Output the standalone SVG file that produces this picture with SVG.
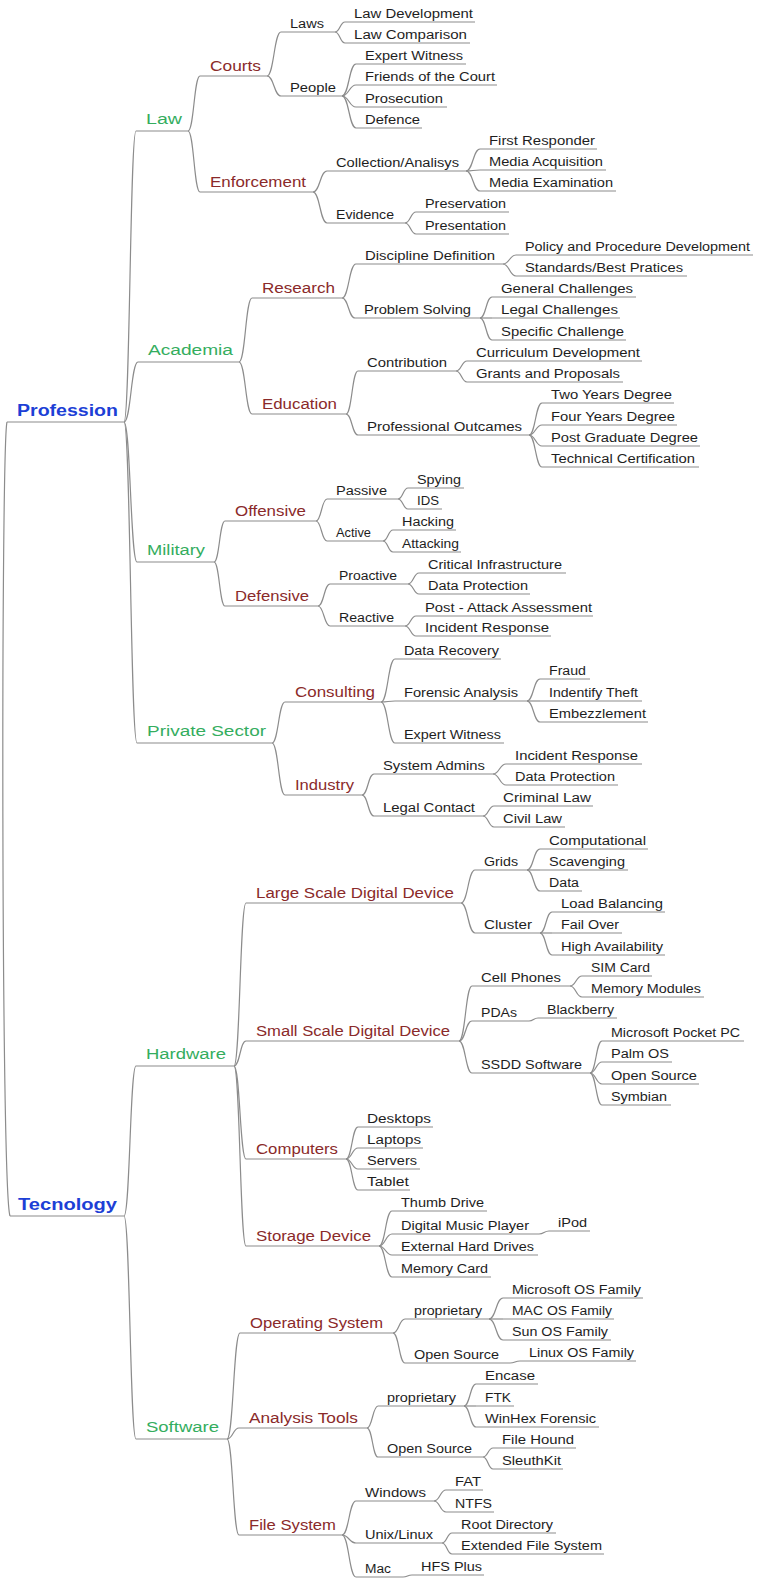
<svg xmlns="http://www.w3.org/2000/svg" width="757" height="1579" viewBox="0 0 757 1579">
<style>
  .c { fill: none; stroke: #8c8c8c; stroke-width: 1.2; }
  .u { fill: none; stroke: #8c8c8c; stroke-width: 1.2; }
  text { font-family: "Liberation Sans", Arial, sans-serif; }
  .l0 { font-size: 16px; font-weight: bold; fill: #1d3fd6; }
  .l1 { font-size: 15.5px; fill: #34ad5e; }
  .l2 { font-size: 14px; fill: #8a2a2a; }
  .l3 { font-size: 12px; fill: #1e1e1e; }
</style>
<rect width="757" height="1579" fill="#ffffff"/>

<!-- connectors: each runs from the right end of a parent's underline to the start of the child's underline -->
<g id="connectors">
  <path class="c" d="M7,422 C1,445 1,1190 10,1216"/>
  <path class="c" d="M124,422 C130,422 130,131 136,131"/>
  <path class="c" d="M124,422 C131,422 131,362 138,362"/>
  <path class="c" d="M124,422 C130.5,422 130.5,562 137,562"/>
  <path class="c" d="M124,422 C130.5,422 130.5,743 137,743"/>
  <path class="c" d="M124,1216 C130,1216 130,1066 136,1066"/>
  <path class="c" d="M124,1216 C130,1216 130,1439 136,1439"/>
  <path class="c" d="M188,131 C194,131 194,76 200,76"/>
  <path class="c" d="M188,131 C194,131 194,192 200,192"/>
  <path class="c" d="M239,362 C245.5,362 245.5,298 252,298"/>
  <path class="c" d="M239,362 C245.5,362 245.5,414 252,414"/>
  <path class="c" d="M214,562 C219.5,562 219.5,521 225,521"/>
  <path class="c" d="M214,562 C219.5,562 219.5,606 225,606"/>
  <path class="c" d="M272,743 C278.5,743 278.5,702 285,702"/>
  <path class="c" d="M272,743 C278.5,743 278.5,795 285,795"/>
  <path class="c" d="M234,1066 C240,1066 240,903 246,903"/>
  <path class="c" d="M234,1066 C240,1066 240,1041 246,1041"/>
  <path class="c" d="M234,1066 C240,1066 240,1159 246,1159"/>
  <path class="c" d="M234,1066 C240,1066 240,1246 246,1246"/>
  <path class="c" d="M227,1439 C233.5,1439 233.5,1333 240,1333"/>
  <path class="c" d="M227,1439 C233,1439 233,1428 239,1428"/>
  <path class="c" d="M227,1439 C233,1439 233,1535 239,1535"/>
  <path class="c" d="M267,76 C274,76 274,32 281,32"/>
  <path class="c" d="M267,76 C274,76 274,96 281,96"/>
  <path class="c" d="M335,32 C340,32 340,22 345,22"/>
  <path class="c" d="M335,32 C340,32 340,43 345,43"/>
  <path class="c" d="M342,96 C349,96 349,64 356,64"/>
  <path class="c" d="M342,96 C349,96 349,85 356,85"/>
  <path class="c" d="M342,96 C349,96 349,107 356,107"/>
  <path class="c" d="M342,96 C349,96 349,128 356,128"/>
  <path class="c" d="M313,192 C320,192 320,171 327,171"/>
  <path class="c" d="M313,192 C320,192 320,223 327,223"/>
  <path class="c" d="M466,171 C473,171 473,149 480,149"/>
  <path class="c" d="M466,171 C473,171 473,170 480,170"/>
  <path class="c" d="M466,171 C473,171 473,191 480,191"/>
  <path class="c" d="M405,223 C410.5,223 410.5,212 416,212"/>
  <path class="c" d="M405,223 C410.5,223 410.5,234 416,234"/>
  <path class="c" d="M342,298 C349,298 349,264 356,264"/>
  <path class="c" d="M342,298 C348.5,298 348.5,318 355,318"/>
  <path class="c" d="M503,264 C509.5,264 509.5,255 516,255"/>
  <path class="c" d="M503,264 C509.5,264 509.5,276 516,276"/>
  <path class="c" d="M480,318 C486,318 486,297 492,297"/>
  <path class="c" d="M480,318 L492,318"/>
  <path class="c" d="M480,318 C486,318 486,340 492,340"/>
  <path class="c" d="M346,414 C352,414 352,371 358,371"/>
  <path class="c" d="M346,414 C352,414 352,435 358,435"/>
  <path class="c" d="M456,371 C461.5,371 461.5,361 467,361"/>
  <path class="c" d="M456,371 C461.5,371 461.5,382 467,382"/>
  <path class="c" d="M529,435 C535.5,435 535.5,403 542,403"/>
  <path class="c" d="M529,435 C535.5,435 535.5,425 542,425"/>
  <path class="c" d="M529,435 C535.5,435 535.5,446 542,446"/>
  <path class="c" d="M529,435 C535.5,435 535.5,467 542,467"/>
  <path class="c" d="M316,521 C321.5,521 321.5,499 327,499"/>
  <path class="c" d="M316,521 C321.5,521 321.5,541 327,541"/>
  <path class="c" d="M398,499 C403,499 403,488 408,488"/>
  <path class="c" d="M398,499 C403,499 403,509 408,509"/>
  <path class="c" d="M383,541 C388,541 388,530 393,530"/>
  <path class="c" d="M383,541 C388,541 388,552 393,552"/>
  <path class="c" d="M318,606 C324,606 324,584 330,584"/>
  <path class="c" d="M318,606 C324,606 324,626 330,626"/>
  <path class="c" d="M408,584 C413.5,584 413.5,573 419,573"/>
  <path class="c" d="M408,584 C413.5,584 413.5,594 419,594"/>
  <path class="c" d="M405,626 C410.5,626 410.5,616 416,616"/>
  <path class="c" d="M405,626 C410.5,626 410.5,636 416,636"/>
  <path class="c" d="M381,702 C388,702 388,659 395,659"/>
  <path class="c" d="M381,702 C388,702 388,701 395,701"/>
  <path class="c" d="M381,702 C388,702 388,743 395,743"/>
  <path class="c" d="M527,701 C533.5,701 533.5,679 540,679"/>
  <path class="c" d="M527,701 L540,701"/>
  <path class="c" d="M527,701 C533.5,701 533.5,722 540,722"/>
  <path class="c" d="M362,795 C368,795 368,774 374,774"/>
  <path class="c" d="M362,795 C368,795 368,816 374,816"/>
  <path class="c" d="M493,774 C499.5,774 499.5,764 506,764"/>
  <path class="c" d="M493,774 C499.5,774 499.5,785 506,785"/>
  <path class="c" d="M483,816 C488.5,816 488.5,806 494,806"/>
  <path class="c" d="M483,816 C488.5,816 488.5,827 494,827"/>
  <path class="c" d="M461,903 C468,903 468,870 475,870"/>
  <path class="c" d="M461,903 C468,903 468,933 475,933"/>
  <path class="c" d="M527,870 C533.5,870 533.5,849 540,849"/>
  <path class="c" d="M527,870 L540,870"/>
  <path class="c" d="M527,870 C533.5,870 533.5,891 540,891"/>
  <path class="c" d="M540,933 C546,933 546,912 552,912"/>
  <path class="c" d="M540,933 L552,933"/>
  <path class="c" d="M540,933 C546,933 546,955 552,955"/>
  <path class="c" d="M459,1041 C465.5,1041 465.5,986 472,986"/>
  <path class="c" d="M459,1041 C465.5,1041 465.5,1021 472,1021"/>
  <path class="c" d="M459,1041 C465.5,1041 465.5,1073 472,1073"/>
  <path class="c" d="M570,986 C576,986 576,976 582,976"/>
  <path class="c" d="M570,986 C576,986 576,997 582,997"/>
  <path class="c" d="M529,1021 C533.5,1021 533.5,1018 538,1018"/>
  <path class="c" d="M590,1073 C596,1073 596,1041 602,1041"/>
  <path class="c" d="M590,1073 C596,1073 596,1062 602,1062"/>
  <path class="c" d="M590,1073 C596,1073 596,1084 602,1084"/>
  <path class="c" d="M590,1073 C596,1073 596,1105 602,1105"/>
  <path class="c" d="M346,1159 C352,1159 352,1127 358,1127"/>
  <path class="c" d="M346,1159 C352,1159 352,1148 358,1148"/>
  <path class="c" d="M346,1159 C352,1159 352,1169 358,1169"/>
  <path class="c" d="M346,1159 C352,1159 352,1190 358,1190"/>
  <path class="c" d="M379,1246 C385.5,1246 385.5,1211 392,1211"/>
  <path class="c" d="M379,1246 C385.5,1246 385.5,1234 392,1234"/>
  <path class="c" d="M379,1246 C385.5,1246 385.5,1255 392,1255"/>
  <path class="c" d="M379,1246 C385.5,1246 385.5,1277 392,1277"/>
  <path class="c" d="M539,1234 C544,1234 544,1231 549,1231"/>
  <path class="c" d="M393,1333 C399,1333 399,1319 405,1319"/>
  <path class="c" d="M393,1333 C399,1333 399,1363 405,1363"/>
  <path class="c" d="M489,1319 C496,1319 496,1298 503,1298"/>
  <path class="c" d="M489,1319 L503,1319"/>
  <path class="c" d="M489,1319 C496,1319 496,1340 503,1340"/>
  <path class="c" d="M510,1363 C515,1363 515,1361 520,1361"/>
  <path class="c" d="M367,1428 C372.5,1428 372.5,1406 378,1406"/>
  <path class="c" d="M367,1428 C372.5,1428 372.5,1457 378,1457"/>
  <path class="c" d="M464,1406 C470,1406 470,1384 476,1384"/>
  <path class="c" d="M464,1406 L476,1406"/>
  <path class="c" d="M464,1406 C470,1406 470,1427 476,1427"/>
  <path class="c" d="M483,1457 C488,1457 488,1448 493,1448"/>
  <path class="c" d="M483,1457 C488,1457 488,1469 493,1469"/>
  <path class="c" d="M342,1535 C349,1535 349,1501 356,1501"/>
  <path class="c" d="M342,1535 C349,1535 349,1543 356,1543"/>
  <path class="c" d="M342,1535 C349,1535 349,1577 356,1577"/>
  <path class="c" d="M434,1501 C440,1501 440,1490 446,1490"/>
  <path class="c" d="M434,1501 C440,1501 440,1512 446,1512"/>
  <path class="c" d="M442,1543 C447,1543 447,1533 452,1533"/>
  <path class="c" d="M442,1543 C447,1543 447,1554 452,1554"/>
  <path class="c" d="M403,1577 C407.5,1577 407.5,1575 412,1575"/>
</g>

<!-- roots -->
<g id="profession"><path class="u" d="M7,422 H124"/><text class="l0" x="17" y="416" textLength="101" lengthAdjust="spacingAndGlyphs">Profession</text></g>
<g id="tecnology"><path class="u" d="M10,1216 H124"/><text class="l0" x="18" y="1210" textLength="99" lengthAdjust="spacingAndGlyphs">Tecnology</text></g>

<!-- Profession branches -->
<g id="law"><path class="u" d="M136,131 H188"/><text class="l1" x="146" y="124" textLength="36" lengthAdjust="spacingAndGlyphs">Law</text></g>
<g id="courts"><path class="u" d="M200,76 H267"/><text class="l2" x="210" y="71" textLength="51" lengthAdjust="spacingAndGlyphs">Courts</text></g>
<g id="courts-laws"><path class="u" d="M281,32 H335"/><text class="l3" x="290" y="28" textLength="34" lengthAdjust="spacingAndGlyphs">Laws</text></g>
<g id="law-development"><path class="u" d="M345,22 H475"/><text class="l3" x="354" y="18" textLength="119" lengthAdjust="spacingAndGlyphs">Law Development</text></g>
<g id="law-comparison"><path class="u" d="M345,43 H470"/><text class="l3" x="354" y="39" textLength="113" lengthAdjust="spacingAndGlyphs">Law Comparison</text></g>
<g id="courts-people"><path class="u" d="M281,96 H342"/><text class="l3" x="290" y="92" textLength="46" lengthAdjust="spacingAndGlyphs">People</text></g>
<g id="people-expert-witness"><path class="u" d="M356,64 H466"/><text class="l3" x="365" y="60" textLength="98" lengthAdjust="spacingAndGlyphs">Expert Witness</text></g>
<g id="friends-of-the-court"><path class="u" d="M356,85 H497"/><text class="l3" x="365" y="81" textLength="130" lengthAdjust="spacingAndGlyphs">Friends of the Court</text></g>
<g id="prosecution"><path class="u" d="M356,107 H447"/><text class="l3" x="365" y="103" textLength="78" lengthAdjust="spacingAndGlyphs">Prosecution</text></g>
<g id="defence"><path class="u" d="M356,128 H422"/><text class="l3" x="365" y="124" textLength="55" lengthAdjust="spacingAndGlyphs">Defence</text></g>
<g id="enforcement"><path class="u" d="M200,192 H313"/><text class="l2" x="210" y="187" textLength="96" lengthAdjust="spacingAndGlyphs">Enforcement</text></g>
<g id="collection-analisys"><path class="u" d="M327,171 H466"/><text class="l3" x="336" y="167" textLength="123" lengthAdjust="spacingAndGlyphs">Collection/Analisys</text></g>
<g id="first-responder"><path class="u" d="M480,149 H597"/><text class="l3" x="489" y="145" textLength="106" lengthAdjust="spacingAndGlyphs">First Responder</text></g>
<g id="media-acquisition"><path class="u" d="M480,170 H606"/><text class="l3" x="489" y="166" textLength="114" lengthAdjust="spacingAndGlyphs">Media Acquisition</text></g>
<g id="media-examination"><path class="u" d="M480,191 H616"/><text class="l3" x="489" y="187" textLength="124" lengthAdjust="spacingAndGlyphs">Media Examination</text></g>
<g id="evidence"><path class="u" d="M327,223 H405"/><text class="l3" x="336" y="219" textLength="58" lengthAdjust="spacingAndGlyphs">Evidence</text></g>
<g id="preservation"><path class="u" d="M416,212 H509"/><text class="l3" x="425" y="208" textLength="81" lengthAdjust="spacingAndGlyphs">Preservation</text></g>
<g id="presentation"><path class="u" d="M416,234 H509"/><text class="l3" x="425" y="230" textLength="81" lengthAdjust="spacingAndGlyphs">Presentation</text></g>

<g id="academia"><path class="u" d="M138,362 H239"/><text class="l1" x="148" y="355" textLength="85" lengthAdjust="spacingAndGlyphs">Academia</text></g>
<g id="research"><path class="u" d="M252,298 H342"/><text class="l2" x="262" y="293" textLength="73" lengthAdjust="spacingAndGlyphs">Research</text></g>
<g id="discipline-definition"><path class="u" d="M356,264 H503"/><text class="l3" x="365" y="260" textLength="130" lengthAdjust="spacingAndGlyphs">Discipline Definition</text></g>
<g id="policy-procedure-development"><path class="u" d="M516,255 H753"/><text class="l3" x="525" y="251" textLength="225" lengthAdjust="spacingAndGlyphs">Policy and Procedure Development</text></g>
<g id="standards-best-pratices"><path class="u" d="M516,276 H687"/><text class="l3" x="525" y="272" textLength="158" lengthAdjust="spacingAndGlyphs">Standards/Best Pratices</text></g>
<g id="problem-solving"><path class="u" d="M355,318 H480"/><text class="l3" x="364" y="314" textLength="107" lengthAdjust="spacingAndGlyphs">Problem Solving</text></g>
<g id="general-challenges"><path class="u" d="M492,297 H636"/><text class="l3" x="501" y="293" textLength="132" lengthAdjust="spacingAndGlyphs">General Challenges</text></g>
<g id="legal-challenges"><path class="u" d="M492,318 H620"/><text class="l3" x="501" y="314" textLength="117" lengthAdjust="spacingAndGlyphs">Legal Challenges</text></g>
<g id="specific-challenge"><path class="u" d="M492,340 H626"/><text class="l3" x="501" y="336" textLength="123" lengthAdjust="spacingAndGlyphs">Specific Challenge</text></g>
<g id="education"><path class="u" d="M252,414 H346"/><text class="l2" x="262" y="409" textLength="75" lengthAdjust="spacingAndGlyphs">Education</text></g>
<g id="contribution"><path class="u" d="M358,371 H456"/><text class="l3" x="367" y="367" textLength="80" lengthAdjust="spacingAndGlyphs">Contribution</text></g>
<g id="curriculum-development"><path class="u" d="M467,361 H642"/><text class="l3" x="476" y="357" textLength="164" lengthAdjust="spacingAndGlyphs">Curriculum Development</text></g>
<g id="grants-and-proposals"><path class="u" d="M467,382 H623"/><text class="l3" x="476" y="378" textLength="144" lengthAdjust="spacingAndGlyphs">Grants and Proposals</text></g>
<g id="professional-outcames"><path class="u" d="M358,435 H529"/><text class="l3" x="367" y="431" textLength="155" lengthAdjust="spacingAndGlyphs">Professional Outcames</text></g>
<g id="two-years-degree"><path class="u" d="M542,403 H674"/><text class="l3" x="551" y="399" textLength="121" lengthAdjust="spacingAndGlyphs">Two Years Degree</text></g>
<g id="four-years-degree"><path class="u" d="M542,425 H677"/><text class="l3" x="551" y="421" textLength="124" lengthAdjust="spacingAndGlyphs">Four Years Degree</text></g>
<g id="post-graduate-degree"><path class="u" d="M542,446 H700"/><text class="l3" x="551" y="442" textLength="147" lengthAdjust="spacingAndGlyphs">Post Graduate Degree</text></g>
<g id="technical-certification"><path class="u" d="M542,467 H699"/><text class="l3" x="551" y="463" textLength="144" lengthAdjust="spacingAndGlyphs">Technical Certification</text></g>

<g id="military"><path class="u" d="M137,562 H214"/><text class="l1" x="147" y="555" textLength="58" lengthAdjust="spacingAndGlyphs">Military</text></g>
<g id="offensive"><path class="u" d="M225,521 H316"/><text class="l2" x="235" y="516" textLength="71" lengthAdjust="spacingAndGlyphs">Offensive</text></g>
<g id="passive"><path class="u" d="M327,499 H398"/><text class="l3" x="336" y="495" textLength="51" lengthAdjust="spacingAndGlyphs">Passive</text></g>
<g id="spying"><path class="u" d="M408,488 H464"/><text class="l3" x="417" y="484" textLength="44" lengthAdjust="spacingAndGlyphs">Spying</text></g>
<g id="ids"><path class="u" d="M408,509 H442"/><text class="l3" x="417" y="505" textLength="22" lengthAdjust="spacingAndGlyphs">IDS</text></g>
<g id="active"><path class="u" d="M327,541 H383"/><text class="l3" x="336" y="537" textLength="35" lengthAdjust="spacingAndGlyphs">Active</text></g>
<g id="hacking"><path class="u" d="M393,530 H456"/><text class="l3" x="402" y="526" textLength="52" lengthAdjust="spacingAndGlyphs">Hacking</text></g>
<g id="attacking"><path class="u" d="M393,552 H461"/><text class="l3" x="402" y="548" textLength="57" lengthAdjust="spacingAndGlyphs">Attacking</text></g>
<g id="defensive"><path class="u" d="M225,606 H318"/><text class="l2" x="235" y="601" textLength="74" lengthAdjust="spacingAndGlyphs">Defensive</text></g>
<g id="proactive"><path class="u" d="M330,584 H408"/><text class="l3" x="339" y="580" textLength="58" lengthAdjust="spacingAndGlyphs">Proactive</text></g>
<g id="critical-infrastructure"><path class="u" d="M419,573 H566"/><text class="l3" x="428" y="569" textLength="134" lengthAdjust="spacingAndGlyphs">Critical Infrastructure</text></g>
<g id="proactive-data-protection"><path class="u" d="M419,594 H530"/><text class="l3" x="428" y="590" textLength="100" lengthAdjust="spacingAndGlyphs">Data Protection</text></g>
<g id="reactive"><path class="u" d="M330,626 H405"/><text class="l3" x="339" y="622" textLength="55" lengthAdjust="spacingAndGlyphs">Reactive</text></g>
<g id="post-attack-assessment"><path class="u" d="M416,616 H593"/><text class="l3" x="425" y="612" textLength="167" lengthAdjust="spacingAndGlyphs">Post - Attack Assessment</text></g>
<g id="reactive-incident-response"><path class="u" d="M416,636 H551"/><text class="l3" x="425" y="632" textLength="124" lengthAdjust="spacingAndGlyphs">Incident Response</text></g>

<g id="private-sector"><path class="u" d="M137,743 H272"/><text class="l1" x="147" y="736" textLength="119" lengthAdjust="spacingAndGlyphs">Private Sector</text></g>
<g id="consulting"><path class="u" d="M285,702 H381"/><text class="l2" x="295" y="697" textLength="80" lengthAdjust="spacingAndGlyphs">Consulting</text></g>
<g id="data-recovery"><path class="u" d="M395,659 H501"/><text class="l3" x="404" y="655" textLength="95" lengthAdjust="spacingAndGlyphs">Data Recovery</text></g>
<g id="forensic-analysis"><path class="u" d="M395,701 H527"/><text class="l3" x="404" y="697" textLength="114" lengthAdjust="spacingAndGlyphs">Forensic Analysis</text></g>
<g id="fraud"><path class="u" d="M540,679 H590"/><text class="l3" x="549" y="675" textLength="37" lengthAdjust="spacingAndGlyphs">Fraud</text></g>
<g id="indentify-theft"><path class="u" d="M540,701 H642"/><text class="l3" x="549" y="697" textLength="89" lengthAdjust="spacingAndGlyphs">Indentify Theft</text></g>
<g id="embezzlement"><path class="u" d="M540,722 H648"/><text class="l3" x="549" y="718" textLength="97" lengthAdjust="spacingAndGlyphs">Embezzlement</text></g>
<g id="consulting-expert-witness"><path class="u" d="M395,743 H504"/><text class="l3" x="404" y="739" textLength="97" lengthAdjust="spacingAndGlyphs">Expert Witness</text></g>
<g id="industry"><path class="u" d="M285,795 H362"/><text class="l2" x="295" y="790" textLength="59" lengthAdjust="spacingAndGlyphs">Industry</text></g>
<g id="system-admins"><path class="u" d="M374,774 H493"/><text class="l3" x="383" y="770" textLength="102" lengthAdjust="spacingAndGlyphs">System Admins</text></g>
<g id="admins-incident-response"><path class="u" d="M506,764 H642"/><text class="l3" x="515" y="760" textLength="123" lengthAdjust="spacingAndGlyphs">Incident Response</text></g>
<g id="admins-data-protection"><path class="u" d="M506,785 H618"/><text class="l3" x="515" y="781" textLength="100" lengthAdjust="spacingAndGlyphs">Data Protection</text></g>
<g id="legal-contact"><path class="u" d="M374,816 H483"/><text class="l3" x="383" y="812" textLength="92" lengthAdjust="spacingAndGlyphs">Legal Contact</text></g>
<g id="criminal-law"><path class="u" d="M494,806 H593"/><text class="l3" x="503" y="802" textLength="88" lengthAdjust="spacingAndGlyphs">Criminal Law</text></g>
<g id="civil-law"><path class="u" d="M494,827 H565"/><text class="l3" x="503" y="823" textLength="59" lengthAdjust="spacingAndGlyphs">Civil Law</text></g>

<!-- Tecnology branches -->
<g id="hardware"><path class="u" d="M136,1066 H234"/><text class="l1" x="146" y="1059" textLength="80" lengthAdjust="spacingAndGlyphs">Hardware</text></g>
<g id="large-scale-digital-device"><path class="u" d="M246,903 H461"/><text class="l2" x="256" y="898" textLength="198" lengthAdjust="spacingAndGlyphs">Large Scale Digital Device</text></g>
<g id="grids"><path class="u" d="M475,870 H527"/><text class="l3" x="484" y="866" textLength="34" lengthAdjust="spacingAndGlyphs">Grids</text></g>
<g id="computational"><path class="u" d="M540,849 H648"/><text class="l3" x="549" y="845" textLength="97" lengthAdjust="spacingAndGlyphs">Computational</text></g>
<g id="scavenging"><path class="u" d="M540,870 H628"/><text class="l3" x="549" y="866" textLength="76" lengthAdjust="spacingAndGlyphs">Scavenging</text></g>
<g id="grids-data"><path class="u" d="M540,891 H582"/><text class="l3" x="549" y="887" textLength="30" lengthAdjust="spacingAndGlyphs">Data</text></g>
<g id="cluster"><path class="u" d="M475,933 H540"/><text class="l3" x="484" y="929" textLength="48" lengthAdjust="spacingAndGlyphs">Cluster</text></g>
<g id="load-balancing"><path class="u" d="M552,912 H665"/><text class="l3" x="561" y="908" textLength="102" lengthAdjust="spacingAndGlyphs">Load Balancing</text></g>
<g id="fail-over"><path class="u" d="M552,933 H622"/><text class="l3" x="561" y="929" textLength="58" lengthAdjust="spacingAndGlyphs">Fail Over</text></g>
<g id="high-availability"><path class="u" d="M552,955 H665"/><text class="l3" x="561" y="951" textLength="102" lengthAdjust="spacingAndGlyphs">High Availability</text></g>
<g id="small-scale-digital-device"><path class="u" d="M246,1041 H459"/><text class="l2" x="256" y="1036" textLength="194" lengthAdjust="spacingAndGlyphs">Small Scale Digital Device</text></g>
<g id="cell-phones"><path class="u" d="M472,986 H570"/><text class="l3" x="481" y="982" textLength="80" lengthAdjust="spacingAndGlyphs">Cell Phones</text></g>
<g id="sim-card"><path class="u" d="M582,976 H652"/><text class="l3" x="591" y="972" textLength="59" lengthAdjust="spacingAndGlyphs">SIM Card</text></g>
<g id="memory-modules"><path class="u" d="M582,997 H704"/><text class="l3" x="591" y="993" textLength="110" lengthAdjust="spacingAndGlyphs">Memory Modules</text></g>
<g id="pdas"><path class="u" d="M472,1021 H529"/><text class="l3" x="481" y="1017" textLength="36" lengthAdjust="spacingAndGlyphs">PDAs</text></g>
<g id="blackberry"><path class="u" d="M538,1018 H617"/><text class="l3" x="547" y="1014" textLength="67" lengthAdjust="spacingAndGlyphs">Blackberry</text></g>
<g id="ssdd-software"><path class="u" d="M472,1073 H590"/><text class="l3" x="481" y="1069" textLength="101" lengthAdjust="spacingAndGlyphs">SSDD Software</text></g>
<g id="microsoft-pocket-pc"><path class="u" d="M602,1041 H744"/><text class="l3" x="611" y="1037" textLength="129" lengthAdjust="spacingAndGlyphs">Microsoft Pocket PC</text></g>
<g id="palm-os"><path class="u" d="M602,1062 H672"/><text class="l3" x="611" y="1058" textLength="58" lengthAdjust="spacingAndGlyphs">Palm OS</text></g>
<g id="ssdd-open-source"><path class="u" d="M602,1084 H699"/><text class="l3" x="611" y="1080" textLength="86" lengthAdjust="spacingAndGlyphs">Open Source</text></g>
<g id="symbian"><path class="u" d="M602,1105 H671"/><text class="l3" x="611" y="1101" textLength="56" lengthAdjust="spacingAndGlyphs">Symbian</text></g>
<g id="computers"><path class="u" d="M246,1159 H346"/><text class="l2" x="256" y="1154" textLength="82" lengthAdjust="spacingAndGlyphs">Computers</text></g>
<g id="desktops"><path class="u" d="M358,1127 H433"/><text class="l3" x="367" y="1123" textLength="64" lengthAdjust="spacingAndGlyphs">Desktops</text></g>
<g id="laptops"><path class="u" d="M358,1148 H423"/><text class="l3" x="367" y="1144" textLength="54" lengthAdjust="spacingAndGlyphs">Laptops</text></g>
<g id="servers"><path class="u" d="M358,1169 H420"/><text class="l3" x="367" y="1165" textLength="50" lengthAdjust="spacingAndGlyphs">Servers</text></g>
<g id="tablet"><path class="u" d="M358,1190 H410"/><text class="l3" x="367" y="1186" textLength="42" lengthAdjust="spacingAndGlyphs">Tablet</text></g>
<g id="storage-device"><path class="u" d="M246,1246 H379"/><text class="l2" x="256" y="1241" textLength="115" lengthAdjust="spacingAndGlyphs">Storage Device</text></g>
<g id="thumb-drive"><path class="u" d="M392,1211 H487"/><text class="l3" x="401" y="1207" textLength="83" lengthAdjust="spacingAndGlyphs">Thumb Drive</text></g>
<g id="digital-music-player"><path class="u" d="M392,1234 H539"/><text class="l3" x="401" y="1230" textLength="128" lengthAdjust="spacingAndGlyphs">Digital Music Player</text></g>
<g id="ipod"><path class="u" d="M549,1231 H590"/><text class="l3" x="558" y="1227" textLength="29" lengthAdjust="spacingAndGlyphs">iPod</text></g>
<g id="external-hard-drives"><path class="u" d="M392,1255 H538"/><text class="l3" x="401" y="1251" textLength="133" lengthAdjust="spacingAndGlyphs">External Hard Drives</text></g>
<g id="memory-card"><path class="u" d="M392,1277 H491"/><text class="l3" x="401" y="1273" textLength="87" lengthAdjust="spacingAndGlyphs">Memory Card</text></g>

<g id="software"><path class="u" d="M136,1439 H227"/><text class="l1" x="146" y="1432" textLength="73" lengthAdjust="spacingAndGlyphs">Software</text></g>
<g id="operating-system"><path class="u" d="M240,1333 H393"/><text class="l2" x="250" y="1328" textLength="133" lengthAdjust="spacingAndGlyphs">Operating System</text></g>
<g id="os-proprietary"><path class="u" d="M405,1319 H489"/><text class="l3" x="414" y="1315" textLength="68" lengthAdjust="spacingAndGlyphs">proprietary</text></g>
<g id="microsoft-os-family"><path class="u" d="M503,1298 H643"/><text class="l3" x="512" y="1294" textLength="129" lengthAdjust="spacingAndGlyphs">Microsoft OS Family</text></g>
<g id="mac-os-family"><path class="u" d="M503,1319 H614"/><text class="l3" x="512" y="1315" textLength="100" lengthAdjust="spacingAndGlyphs">MAC OS Family</text></g>
<g id="sun-os-family"><path class="u" d="M503,1340 H611"/><text class="l3" x="512" y="1336" textLength="96" lengthAdjust="spacingAndGlyphs">Sun OS Family</text></g>
<g id="os-open-source"><path class="u" d="M405,1363 H510"/><text class="l3" x="414" y="1359" textLength="85" lengthAdjust="spacingAndGlyphs">Open Source</text></g>
<g id="linux-os-family"><path class="u" d="M520,1361 H636"/><text class="l3" x="529" y="1357" textLength="105" lengthAdjust="spacingAndGlyphs">Linux OS Family</text></g>
<g id="analysis-tools"><path class="u" d="M239,1428 H367"/><text class="l2" x="249" y="1423" textLength="109" lengthAdjust="spacingAndGlyphs">Analysis Tools</text></g>
<g id="tools-proprietary"><path class="u" d="M378,1406 H464"/><text class="l3" x="387" y="1402" textLength="69" lengthAdjust="spacingAndGlyphs">proprietary</text></g>
<g id="encase"><path class="u" d="M476,1384 H538"/><text class="l3" x="485" y="1380" textLength="50" lengthAdjust="spacingAndGlyphs">Encase</text></g>
<g id="ftk"><path class="u" d="M476,1406 H514"/><text class="l3" x="485" y="1402" textLength="26" lengthAdjust="spacingAndGlyphs">FTK</text></g>
<g id="winhex-forensic"><path class="u" d="M476,1427 H599"/><text class="l3" x="485" y="1423" textLength="111" lengthAdjust="spacingAndGlyphs">WinHex Forensic</text></g>
<g id="tools-open-source"><path class="u" d="M378,1457 H483"/><text class="l3" x="387" y="1453" textLength="85" lengthAdjust="spacingAndGlyphs">Open Source</text></g>
<g id="file-hound"><path class="u" d="M493,1448 H576"/><text class="l3" x="502" y="1444" textLength="72" lengthAdjust="spacingAndGlyphs">File Hound</text></g>
<g id="sleuthkit"><path class="u" d="M493,1469 H563"/><text class="l3" x="502" y="1465" textLength="59" lengthAdjust="spacingAndGlyphs">SleuthKit</text></g>
<g id="file-system"><path class="u" d="M239,1535 H342"/><text class="l2" x="249" y="1530" textLength="87" lengthAdjust="spacingAndGlyphs">File System</text></g>
<g id="windows"><path class="u" d="M356,1501 H434"/><text class="l3" x="365" y="1497" textLength="61" lengthAdjust="spacingAndGlyphs">Windows</text></g>
<g id="fat"><path class="u" d="M446,1490 H483"/><text class="l3" x="455" y="1486" textLength="26" lengthAdjust="spacingAndGlyphs">FAT</text></g>
<g id="ntfs"><path class="u" d="M446,1512 H494"/><text class="l3" x="455" y="1508" textLength="37" lengthAdjust="spacingAndGlyphs">NTFS</text></g>
<g id="unix-linux"><path class="u" d="M356,1543 H442"/><text class="l3" x="365" y="1539" textLength="68" lengthAdjust="spacingAndGlyphs">Unix/Linux</text></g>
<g id="root-directory"><path class="u" d="M452,1533 H556"/><text class="l3" x="461" y="1529" textLength="92" lengthAdjust="spacingAndGlyphs">Root Directory</text></g>
<g id="extended-file-system"><path class="u" d="M452,1554 H604"/><text class="l3" x="461" y="1550" textLength="141" lengthAdjust="spacingAndGlyphs">Extended File System</text></g>
<g id="mac"><path class="u" d="M356,1577 H403"/><text class="l3" x="365" y="1573" textLength="26" lengthAdjust="spacingAndGlyphs">Mac</text></g>
<g id="hfs-plus"><path class="u" d="M412,1575 H484"/><text class="l3" x="421" y="1571" textLength="61" lengthAdjust="spacingAndGlyphs">HFS Plus</text></g>
</svg>
